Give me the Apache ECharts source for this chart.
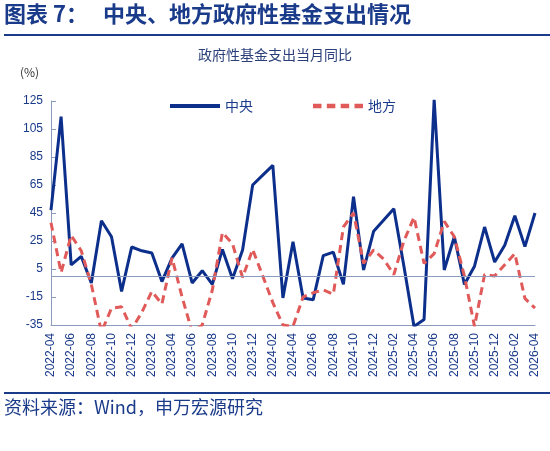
<!DOCTYPE html>
<html><head><meta charset="utf-8">
<script src="https://cdn.jsdelivr.net/npm/echarts@6/dist/echarts.min.js"></script>
<style>html,body{margin:0;padding:0;background:#fff}#c{width:550px;height:451px}</style>
</head><body><div id="c"></div>
<script>
const categories = [];
for (let y = 2022, m = 4; y < 2026 || (y === 2026 && m <= 4); ) {
  categories.push(y + '-' + String(m).padStart(2, '0'));
  m++; if (m > 12) { m = 1; y++; }
}
const central = [47,113.8,8,14,-5,39.5,28,-11,20.7,18,16.4,-4,12.8,23,-5,3.8,-6,19,-2,18.6,65,72,79,-15.7,24.5,
  -15.7,-17,14.5,17,-6,56.7,4.3,32,40,48,7,-36,-31,126,4.3,28,-6,7,35,10,22,43,21,45];
const local = [38,2.4,29,18,-6,-40,-23,-22,-38,-26,-11,-20,13,-15,-40,-35,-10,31,23,-1,19,0,-19,-35,-36,
  -15,-12,-10,-13,35,45,9,18.6,12,1,25,42,9,16,39,28,0,-36,1,0,8,16,-16,-23];
const yTicks = [-35,-15,5,25,45,65,85,105,125];

const chart = echarts.init(document.getElementById('c'));
const font = '"Noto Sans CJK SC", sans-serif';
chart.setOption({
  animation: false,
  graphic: [
    {type:'text', left:4, top:3, style:{text:'图表 7：   中央、地方政府性基金支出情况', font:'bold 22px "Noto Sans CJK SC"', fill:'#1a3a8a'}},
    {type:'rect', shape:{x:4,y:34,width:546,height:2}, style:{fill:'#1a3a8a'}},
    {type:'text', left:'center', top:48, style:{text:'政府性基金支出当月同比', font:'14px "Noto Sans CJK SC"', fill:'#2a3f7a'}},
    {type:'text', left:20, top:66, style:{text:'(%)', font:'12px "Noto Sans CJK SC"', fill:'#333'}},
    {type:'rect', shape:{x:4,y:392,width:546,height:2}, style:{fill:'#1a3a8a'}},
    {type:'text', left:4, top:398, style:{text:'资料来源：Wind，申万宏源研究', font:'18px "Noto Sans CJK SC"', fill:'#1a3a8a'}}
  ],
  legend: {top: 94, left: 165, itemGap: 60, itemWidth: 50, itemHeight: 10,
    textStyle:{fontFamily:font, fontSize:14, color:'#1a3a8a'},
    data:[{name:'中央', icon:'path://M0,0H50V4H0Z'},{name:'地方', icon:'path://M0,0H8V4H0ZM13,0H21V4H13ZM26,0H34V4H26ZM39,0H47V4H39Z'}]},
  grid: {left: 51, right: 15, top: 101, bottom: 126},
  xAxis: {type:'category', data: categories, boundaryGap:false,
    axisLine:{onZero:false, lineStyle:{color:'#8a9bbd'}},
    axisTick:{show:false},
    axisLabel:{interval:1, rotate:90, fontSize:12, fontFamily:'Arial', color:'#1a3a8a', margin:8}},
  yAxis: {type:'value', min:-35, max:125, interval:20,
    axisLine:{show:true, lineStyle:{color:'#8a9bbd'}},
    axisTick:{show:true, inside:true, lineStyle:{color:'#8a9bbd'}},
    splitLine:{show:false},
    axisLabel:{fontSize:12, fontFamily:'Arial', color:'#1a3a8a'}},
  series: [
    {name:'中央', type:'line', data: central, symbol:'none', lineStyle:{color:'#0d2f8c', width:3}, itemStyle:{color:'#0d2f8c'},
     markLine:{silent:true, symbol:'none', label:{show:false}, lineStyle:{color:'#8a9bbd', width:1, type:'solid'}, data:[{yAxis:0}]}},
    {name:'地方', type:'line', data: local, symbol:'none', lineStyle:{color:'#e05a5a', width:3, type:[8,5]}, itemStyle:{color:'#e05a5a'}}
  ]
});
</script></body></html>
